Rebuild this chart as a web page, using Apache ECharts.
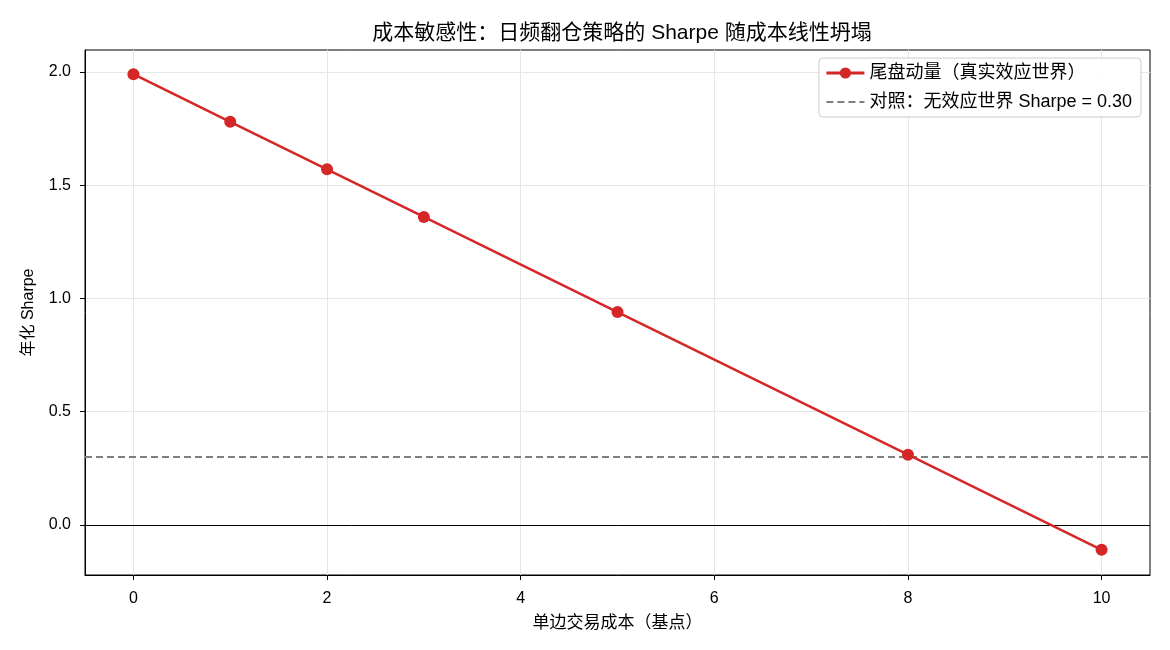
<!DOCTYPE html>
<html>
<head>
<meta charset="utf-8">
<script src="https://cdn.jsdelivr.net/npm/echarts@6/dist/echarts.min.js"></script>
<style>
  html, body { margin: 0; padding: 0; background: #fff; }
  #main { width: 1170px; height: 650px; }
</style>
</head>
<body>
<div id="main"></div>
<script>
// 单边交易成本（基点）
const costs = [0, 1, 2, 3, 5, 8, 10]
// 尾盘动量 年化 Sharpe
const sharpe = [1.99, 1.78, 1.57, 1.36, 0.94, 0.31, -0.11]
// 对照组 Sharpe
const baseline = 0.30
const xTicks = [0, 2, 4, 6, 8, 10]
const yTicks = [0, 0.5, 1.0, 1.5, 2.0]

const font = '"Liberation Sans", "Noto Sans CJK SC", sans-serif'
const chart = echarts.init(document.getElementById('main'))

chart.setOption({
  animation: false,
  textStyle: { fontFamily: font },
  title: {
    text: '成本敏感性：日频翻仓策略的 Sharpe 随成本线性坍塌',
    left: 617,
    textAlign: 'center',
    top: 18,
    textStyle: { fontSize: 21, fontWeight: 'normal', color: '#000', fontFamily: font }
  },
  legend: {
    right: 29,
    top: 58,
    orient: 'vertical',
    itemGap: 11,
    itemWidth: 38,
    itemHeight: 14,
    padding: [6, 9, 6, 6],
    borderColor: '#cccccc',
    borderWidth: 1,
    borderRadius: 4,
    backgroundColor: 'rgba(255,255,255,0.9)',
    textStyle: { fontSize: 18, color: '#000', fontFamily: font },
    data: [
      { name: '尾盘动量（真实效应世界）', lineStyle: { width: 3 } },
      { name: '对照：无效应世界 Sharpe = 0.30', itemStyle: { opacity: 0 } }
    ]
  },
  grid: {
    left: 85, right: 20, top: 50, bottom: 75,
    show: true, borderColor: '#000', borderWidth: 1
  },
  xAxis: {
    type: 'value',
    min: -0.5, max: 10.5,
    name: '单边交易成本（基点）',
    nameLocation: 'middle',
    nameGap: 40,
    nameTextStyle: { fontSize: 17, color: '#000' },
    axisLine: { onZero: false, lineStyle: { color: '#000' } },
    axisTick: { show: true, length: 5, lineStyle: { color: '#000' }, customValues: xTicks },
    axisLabel: { fontSize: 16, color: '#000', margin: 16, customValues: xTicks },
    splitLine: { show: true, lineStyle: { color: '#e6e6e6', width: 1 } }
  },
  yAxis: {
    type: 'value',
    min: -0.221, max: 2.097,
    name: '年化 Sharpe',
    nameLocation: 'middle',
    nameGap: 48,
    nameTextStyle: { fontSize: 16, color: '#000' },
    axisLine: { show: true, onZero: false, lineStyle: { color: '#000' } },
    axisTick: { show: true, length: 5, lineStyle: { color: '#000' }, customValues: yTicks },
    axisLabel: {
      fontSize: 16, color: '#000', margin: 14, customValues: yTicks,
      formatter: v => v.toFixed(1)
    },
    splitLine: { show: true, lineStyle: { color: '#e6e6e6', width: 1 } }
  },
  series: [
    {
      name: '尾盘动量（真实效应世界）',
      type: 'line',
      data: costs.map((c, i) => [c, sharpe[i]]),
      symbol: 'circle',
      symbolSize: 12,
      itemStyle: { color: '#d62728' },
      lineStyle: { color: '#d62728', width: 2.5 },
      z: 5,
      markLine: {
        silent: true,
        symbol: 'none',
        label: { show: false },
        lineStyle: { color: '#000', width: 1, type: 'solid' },
        data: [{ yAxis: 0 }]
      }
    },
    {
      name: '对照：无效应世界 Sharpe = 0.30',
      type: 'line',
      data: [[-0.5, baseline], [10.5, baseline]],
      symbol: 'none',
      itemStyle: { color: '#7f7f7f' },
      lineStyle: { color: '#7f7f7f', width: 2, type: [7, 4] },
      z: 3
    }
  ]
})
</script>
</body>
</html>
